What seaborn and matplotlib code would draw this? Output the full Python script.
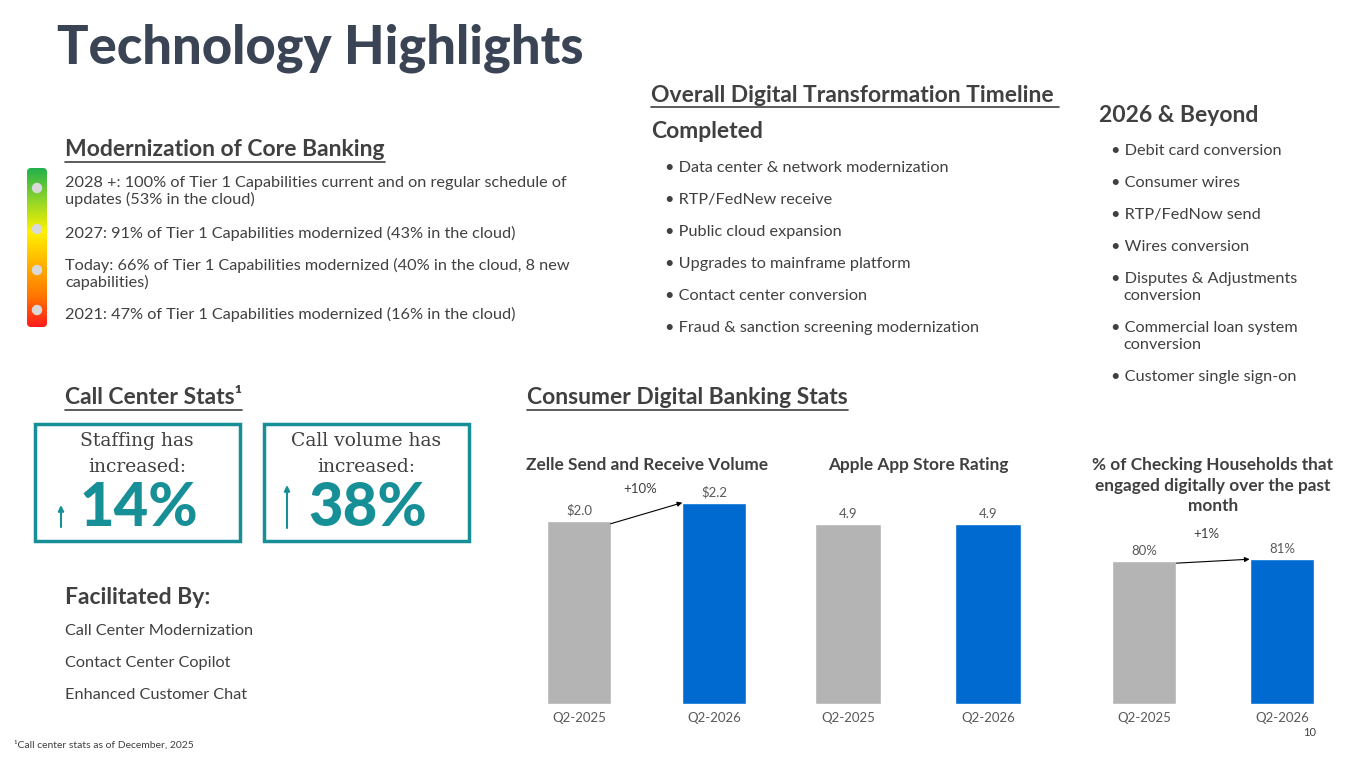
import matplotlib
matplotlib.use('Agg')
import matplotlib.pyplot as plt
from matplotlib.colors import LinearSegmentedColormap
from matplotlib.patches import FancyBboxPatch, Rectangle, Circle
import numpy as np
import seaborn as sns

#%% data
periods = ['Q2-2025', 'Q2-2026']
zelle_volume = [2.0, 2.2]
zelle_labels = ['$2.0', '$2.2']
app_rating = [4.9, 4.9]
app_labels = ['4.9', '4.9']
checking_pct = [80, 81]
checking_labels = ['80%', '81%']
zelle_change = '+10%'
checking_change = '+1%'

core_banking = ['2028 +: 100% of Tier 1 Capabilities current and on regular schedule of\nupdates (53% in the cloud)',
                '2027: 91% of Tier 1 Capabilities modernized (43% in the cloud)',
                'Today: 66% of Tier 1 Capabilities modernized (40% in the cloud, 8 new\ncapabilities)',
                '2021: 47% of Tier 1 Capabilities modernized (16% in the cloud)']
completed = ['Data center & network modernization', 'RTP/FedNew receive', 'Public cloud expansion',
             'Upgrades to mainframe platform', 'Contact center conversion',
             'Fraud & sanction screening modernization']
beyond = ['Debit card conversion', 'Consumer wires', 'RTP/FedNow send', 'Wires conversion',
          'Disputes & Adjustments\nconversion', 'Commercial loan system\nconversion', 'Customer single sign-on']
facilitated = ['Call Center Modernization', 'Contact Center Copilot', 'Enhanced Customer Chat']
staffing_pct = '14%'
call_volume_pct = '38%'

#%% style
sns.set_style('white')
plt.rcParams['font.family'] = ['Lato', 'DejaVu Sans']
W, H = 1365, 768
dark = '#404040'
title_col = '#3b4455'
teal = '#168f96'
gray_bar = '#b4b4b4'
blue_bar = '#006ad0'
body = 11.7
head = 16.5

fig = plt.figure(figsize=(W / 100, H / 100), dpi=100)
bg = fig.add_axes([0, 0, 1, 1])
bg.set_xlim(0, W)
bg.set_ylim(H, 0)
bg.axis('off')


def px_axes(l, t, r, b):
    return fig.add_axes([l / W, 1 - b / H, (r - l) / W, (b - t) / H])


def underline(txt, gap=3, lw=1.2, color=dark):
    rend = fig.canvas.get_renderer()
    bb = txt.get_window_extent(rend)
    inv = bg.transData.inverted()
    (x0, y0), (x1, y1) = inv.transform([[bb.x0, bb.y0], [bb.x1, bb.y1]])
    bg.plot([x0, x1], [y0 + gap, y0 + gap], color=color, lw=lw)


#%% title
bg.text(57, 48, 'Technology Highlights', fontsize=37.8, fontweight='black', color=title_col, va='center')

#%% modernization of core banking
t = bg.text(65, 150, 'Modernization of Core Banking', fontsize=head, fontweight='bold', color=dark, va='center')
underline(t, gap=1)
ys = [185, 235, 267, 316]
for y, s in zip(ys, core_banking):
    bg.text(65, y - 9, s, fontsize=body, color=dark, va='top', linespacing=1.15)

cmap = LinearSegmentedColormap.from_list('status', ['#22b14c', '#8fd52a', '#fff200', '#ffb400', '#ff7800', '#ff1c1c'])
grad = np.linspace(0, 1, 256).reshape(-1, 1)
frame = FancyBboxPatch((27, 168), 20, 159, boxstyle='round,pad=0,rounding_size=4',
                       transform=bg.transData, facecolor='none', edgecolor='none')
bg.add_patch(frame)
im = bg.imshow(grad, extent=(27, 47, 327, 168), cmap=cmap, aspect='auto', origin='upper')
im.set_clip_path(frame)
for y in [188, 229, 270, 310]:
    bg.add_patch(Circle((37, y), 4.5, color='#d9d9d9', zorder=3))
bg.set_xlim(0, W)
bg.set_ylim(H, 0)

#%% digital transformation timeline
t = bg.text(651, 95, 'Overall Digital Transformation Timeline ', fontsize=head, fontweight='bold', color=dark, va='center')
underline(t, gap=1)
bg.text(651, 132, 'Completed', fontsize=head, fontweight='bold', color=dark, va='center')
for i, s in enumerate(completed):
    bg.text(665, 168 + 32 * i, '\u2022 ' + s, fontsize=body, color=dark, va='center')

bg.text(1099, 115, '2026 & Beyond', fontsize=head, fontweight='bold', color=dark, va='center')
y = 151
for s in beyond:
    lines = s.split('\n')
    bg.text(1111, y, '\u2022 ' + lines[0], fontsize=body, color=dark, va='center')
    for extra in lines[1:]:
        y += 17
        bg.text(1123, y, extra, fontsize=body, color=dark, va='center')
    y += 32

#%% call center stats
t = bg.text(65, 398, 'Call Center Stats\u00b9', fontsize=head, fontweight='bold', color=dark, va='center')
underline(t, gap=1)
boxes = [(35, 'Staffing has\nincreased:', staffing_pct, 527, 505, 61),
         (264, 'Call volume has\nincreased:', call_volume_pct, 528, 485, 287)]
for x0, label, pct, a0, a1, ax_x in boxes:
    bg.add_patch(Rectangle((x0, 424), 205, 117, facecolor='none', edgecolor=teal, lw=2.5))
    bg.text(x0 + 102, 454, label, fontsize=13.5, family='DejaVu Serif', color=dark,
            ha='center', va='center', linespacing=1.5)
    bg.text(x0 + 104, 508, pct, fontsize=43, fontweight='black', color=teal, ha='center', va='center')
    bg.annotate('', xy=(ax_x, a1), xytext=(ax_x, a0),
                arrowprops=dict(arrowstyle='-|>', color=teal, lw=1.5, mutation_scale=8,
                                shrinkA=0, shrinkB=0))

bg.text(65, 597, 'Facilitated By:', fontsize=head, fontweight='bold', color=dark, va='center')
for i, s in enumerate(facilitated):
    bg.text(65, 631 + 32 * i, s, fontsize=body, color=dark, va='center')

bg.text(14, 745, '\u00b9Call center stats as of December, 2025', fontsize=7.5, color=dark, va='center')
bg.text(1303, 733, '10', fontsize=8, color=dark, va='center')

#%% consumer digital banking stats
t = bg.text(527, 398, 'Consumer Digital Banking Stats', fontsize=head, fontweight='bold', color=dark, va='center')
underline(t, gap=1)

charts = [
    ((511.5, 781.5), zelle_volume, zelle_labels, 2.885, 'Zelle Send and Receive Volume', zelle_change, 10),
    ((778, 1058), app_rating, app_labels, 7.19, 'Apple App Store Rating', None, 0),
    ((1075, 1351), checking_pct, checking_labels, 147.7, '% of Checking Households that\nengaged digitally over the past\nmonth', checking_change, 18),
]
bar_w = 0.47
for (l, r), vals, labels, ymax, title, change, chg_off in charts:
    ax = px_axes(l, 440, r, 704)
    ax.patch.set_alpha(0)
    sns.barplot(x=periods, y=vals, hue=periods, palette=[gray_bar, blue_bar], width=bar_w,
                saturation=1, legend=False, ax=ax)
    for c, lab in zip(ax.containers, labels):
        ax.bar_label(c, labels=[lab], padding=3, fontsize=9.5, color='#595959')
    ax.set_xlim(-0.5, 1.5)
    ax.set_ylim(0, ymax)
    ax.set_yticks([])
    ax.set_xlabel('')
    ax.set_ylabel('')
    sns.despine(ax=ax, left=True, bottom=True)
    ax.tick_params(axis='x', length=0, pad=6, labelsize=9.5, labelcolor='#595959')
    cx = (l + r) / 2
    bg.text(cx, 457, title, fontsize=12.4, fontweight='bold', color=dark, ha='center', va='top',
            linespacing=1.35)
    if change:
        ax.annotate('', xy=(1 - bar_w / 2, vals[1]), xytext=(bar_w / 2, vals[0] * 0.985),
                    arrowprops=dict(arrowstyle='-|>', color='black', lw=0.8, mutation_scale=7,
                                    shrinkA=0, shrinkB=0))
        ax.annotate(change, xy=(0.45, vals[1]), xytext=(0, chg_off), textcoords='offset points',
                    ha='center', va='center', fontsize=9.5, color='#404040')

fig.savefig('out.png', dpi=100)
